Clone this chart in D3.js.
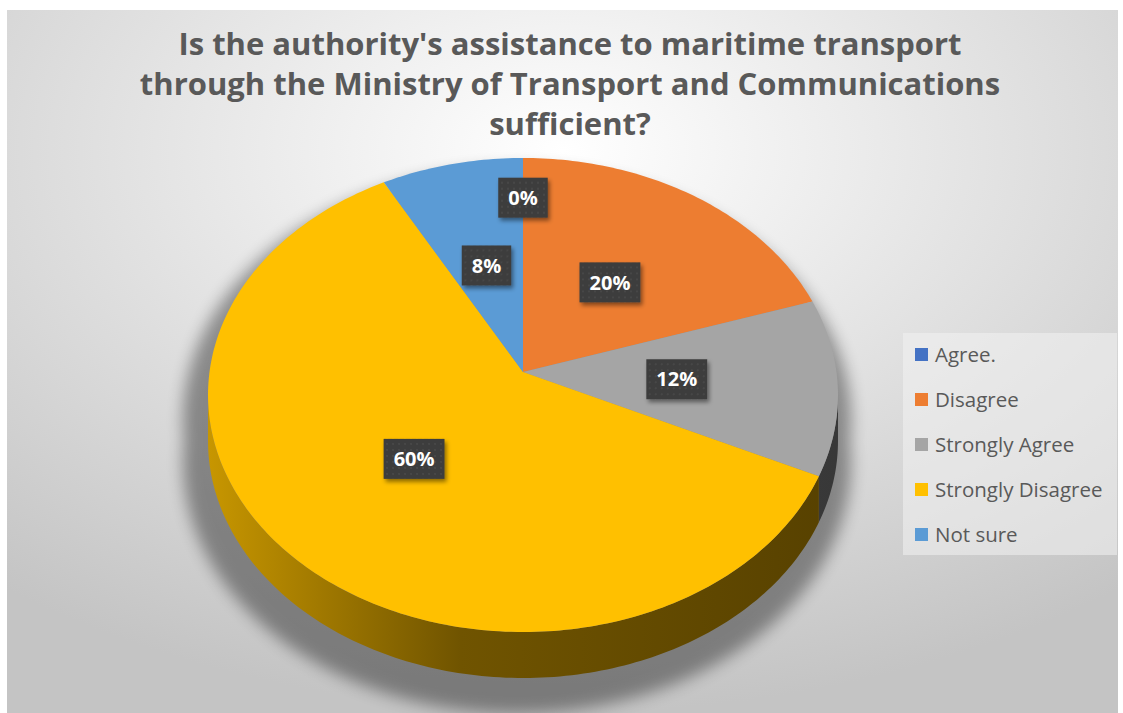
<!DOCTYPE html>
<html>
<head>
<meta charset="utf-8">
<script src="https://cdn.jsdelivr.net/npm/d3@7"></script>
<style>
  body { margin: 0; background: #fff; }
  svg { display: block; }
</style>
</head>
<body>
<svg></svg>
<script>
let categories = ['Agree.', 'Disagree', 'Strongly Agree', 'Strongly Disagree', 'Not sure']
let values = [0, 20, 12, 60, 8]
let labels = ['0%', '20%', '12%', '60%', '8%']
let colors = ['#4472C4', '#ED7D31', '#A5A5A5', '#FFC000', '#5B9BD5']
let titleLines = [
    "Is the authority's assistance to maritime transport",
    'through the Ministry of Transport and Communications',
    'sufficient?'
]

let width = 1123
let height = 713

// pie geometry (slight perspective, tilted disk)
let cx = 523
let cy = 372
let rx = 313.5
let ry = 234.8
let persp = 0.097
let depth = 46

let svg = d3.select('svg')
            .attr('width', width)
            .attr('height', height)

let defs = svg.append('defs')

let proj = (theta, r, dz) => {
    let u = r * Math.sin(theta)
    let v = -r * Math.cos(theta)
    let d = 1 - persp * v
    return [cx + rx * u / d, cy + ry * v / d + (dz || 0)]
}

let arcPoints = (a0, a1, dz) => {
    let n = Math.max(2, Math.ceil((a1 - a0) / (Math.PI / 180)))
    return d3.range(n + 1).map(i => proj(a0 + (a1 - a0) * i / n, 1, dz))
}

let line = d3.line()

let drawBackground = () => {
    let bg = defs.append('radialGradient')
                 .attr('id', 'bg')
                 .attr('cx', '50%').attr('cy', '20%').attr('r', '80%')
    bg.append('stop').attr('offset', '0%').attr('stop-color', '#ffffff')
    bg.append('stop').attr('offset', '100%').attr('stop-color', '#c4c4c4')

    svg.append('rect')
       .attr('x', 7).attr('y', 10)
       .attr('width', 1111).attr('height', height - 10)
       .attr('fill', 'url(#bg)')
}

let drawTitle = () => {
    svg.append('g')
       .selectAll('text')
       .data(titleLines)
       .enter()
       .append('text')
       .attr('x', 570)
       .attr('y', (d, i) => 55 + i * 40)
       .attr('text-anchor', 'middle')
       .attr('font-family', 'Open Sans, sans-serif')
       .attr('font-weight', 700)
       .attr('font-size', 31)
       .attr('fill', '#595959')
       .text(d => d)
}

let drawPie = () => {
    let pie = d3.pie().sort(null).value(d => d)
    let arcs = pie(values)

    // soft shadow under the disk
    let blur = defs.append('filter').attr('id', 'shadowBlur')
                   .attr('x', '-20%').attr('y', '-20%').attr('width', '140%').attr('height', '140%')
    blur.append('feGaussianBlur').attr('stdDeviation', 8)

    let sil = d3.range(0, 361, 2).map(a => {
        let p = proj(a * Math.PI / 180, 1.06, 0)
        return [p[0] - 6, p[1] + 22]
    })
    let sil2 = d3.range(0, 361, 2).map(a => {
        let p = proj(a * Math.PI / 180, 1.06, depth)
        return [p[0] - 6, p[1] + 18]
    })
    svg.append('path')
       .attr('d', line(sil) + 'Z' + line(sil2) + 'Z')
       .attr('fill', '#000')
       .attr('opacity', 0.38)
       .attr('filter', 'url(#shadowBlur)')

    // side walls: only the front half of the rim shows
    let vis0 = Math.PI / 2 + Math.asin(persp)
    let vis1 = 2 * Math.PI - vis0

    arcs.forEach((d, i) => {
        let a0 = Math.max(d.startAngle, vis0)
        let a1 = Math.min(d.endAngle, vis1)
        if (a1 <= a0) return

        let shade = d3.interpolateRgb(colors[i], '#000')
        let grad = defs.append('linearGradient')
                       .attr('id', 'side' + i)
                       .attr('gradientUnits', 'userSpaceOnUse')
                       .attr('x1', cx - rx).attr('y1', 0)
                       .attr('x2', cx + rx).attr('y2', 0)
        grad.append('stop').attr('offset', '0%').attr('stop-color', shade(0.22))
        grad.append('stop').attr('offset', '40%').attr('stop-color', shade(0.56))
        grad.append('stop').attr('offset', '100%').attr('stop-color', shade(0.66))

        let pts = arcPoints(a0, a1, 0).concat(arcPoints(a0, a1, depth).reverse())
        svg.append('path')
           .attr('d', line(pts) + 'Z')
           .attr('fill', 'url(#side' + i + ')')
    })

    // top faces
    svg.append('g')
       .selectAll('path')
       .data(arcs)
       .enter()
       .append('path')
       .attr('d', d => {
           if (d.endAngle - d.startAngle <= 0) return null
           return line([[cx, cy]].concat(arcPoints(d.startAngle, d.endAngle, 0))) + 'Z'
       })
       .attr('fill', (d, i) => colors[i])

    drawLabels(arcs)
}

let drawLabels = (arcs) => {
    let pat = defs.append('pattern')
                  .attr('id', 'dots')
                  .attr('patternUnits', 'userSpaceOnUse')
                  .attr('width', 6).attr('height', 6)
    pat.append('rect').attr('width', 6).attr('height', 6).attr('fill', '#3c3c3c')
    pat.append('circle').attr('cx', 3).attr('cy', 3).attr('r', 0.8).attr('fill', '#555')

    let ds = defs.append('filter').attr('id', 'labelShadow')
                 .attr('x', '-30%').attr('y', '-30%').attr('width', '160%').attr('height', '160%')
    ds.append('feDropShadow')
      .attr('dx', 2).attr('dy', 3).attr('stdDeviation', 2)
      .attr('flood-color', '#000').attr('flood-opacity', 0.45)

    arcs.forEach((d, i) => {
        let mid = (d.startAngle + d.endAngle) / 2
        let r = d.value === 0 ? 0.8 : 0.49
        let p = proj(mid, r, 0)

        let g = svg.append('g').attr('transform', 'translate(' + p[0] + ',' + p[1] + ')')
        let box = g.append('rect')
        let t = g.append('text')
                 .attr('text-anchor', 'middle')
                 .attr('dy', '0.36em')
                 .attr('font-family', 'Open Sans, sans-serif')
                 .attr('font-weight', 700)
                 .attr('font-size', 20)
                 .attr('fill', '#fff')
                 .text(labels[i])
        let w = t.node().getComputedTextLength() + 20
        box.attr('x', -w / 2).attr('y', -20)
           .attr('width', w).attr('height', 40)
           .attr('fill', 'url(#dots)')
           .attr('filter', 'url(#labelShadow)')
    })
}

let drawLegend = () => {
    let lg = svg.append('g').attr('transform', 'translate(903, 333)')
    lg.append('rect')
      .attr('width', 214).attr('height', 222)
      .attr('fill', '#f2f2f2')
      .attr('opacity', 0.55)

    let items = lg.selectAll('g.item')
                  .data(categories)
                  .enter()
                  .append('g')
                  .attr('class', 'item')
                  .attr('transform', (d, i) => 'translate(12, ' + (22 + i * 45) + ')')

    items.append('rect')
         .attr('x', 0).attr('y', -7)
         .attr('width', 13).attr('height', 13)
         .attr('fill', (d, i) => colors[i])

    items.append('text')
         .attr('x', 20)
         .attr('dy', '0.35em')
         .attr('font-family', 'Open Sans, sans-serif')
         .attr('font-size', 20.5)
         .attr('fill', '#595959')
         .text(d => d)
}

drawBackground()
drawTitle()
drawPie()
drawLegend()
</script>
</body>
</html>
